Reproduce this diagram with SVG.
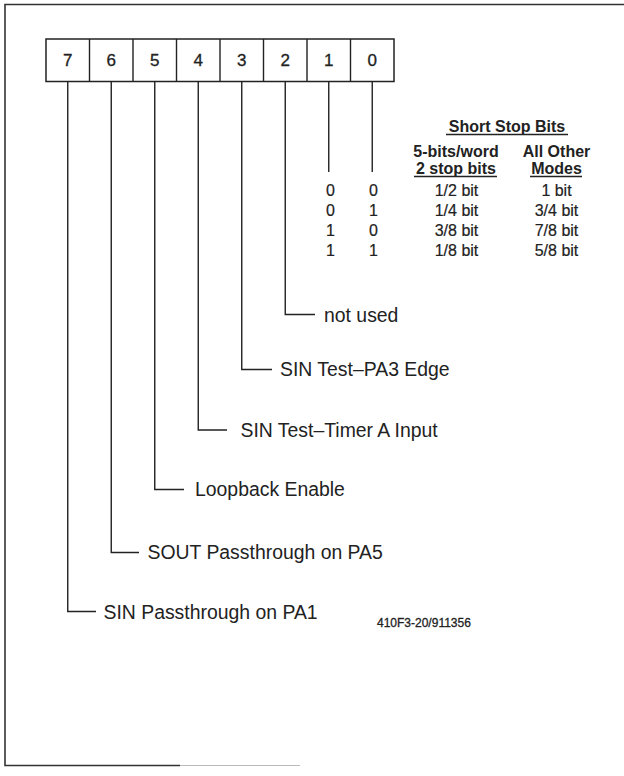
<svg xmlns="http://www.w3.org/2000/svg" width="624" height="776" viewBox="0 0 624 776">
<style>
.frame{fill:none;stroke:#333;stroke-width:1.6}
.cell{fill:#fff;stroke:#222;stroke-width:1.5}
.num{font-family:"Liberation Sans",Arial,sans-serif;font-size:17px;fill:#222;text-anchor:middle;stroke:#222;stroke-width:0.3}
.lbl{font-family:"Liberation Sans",Arial,sans-serif;font-size:19.4px;fill:#222}
.hdr{font-family:"Liberation Sans",Arial,sans-serif;font-size:16px;font-weight:bold;fill:#222;text-anchor:middle}
.val{font-family:"Liberation Sans",Arial,sans-serif;font-size:16px;fill:#222;text-anchor:middle;stroke:#222;stroke-width:0.2}
.foot{font-family:"Liberation Sans",Arial,sans-serif;font-size:12px;fill:#222;stroke:#222;stroke-width:0.3}
.ln{fill:none;stroke:#222;stroke-width:1.4}
.ul{stroke:#222;stroke-width:1.4}
</style>
<path class="frame" d="M624,4.5 H5 V765.5 H180"/>
<line x1="180" y1="765.5" x2="300" y2="765.5" stroke="#bbb" stroke-width="1.2"/>
<g id="register">
<rect class="cell" x="46" y="39" width="348" height="42.5"/>
<g class="ul">
<line x1="89.5" y1="39" x2="89.5" y2="81.5"/>
<line x1="133" y1="39" x2="133" y2="81.5"/>
<line x1="176.5" y1="39" x2="176.5" y2="81.5"/>
<line x1="220" y1="39" x2="220" y2="81.5"/>
<line x1="263.5" y1="39" x2="263.5" y2="81.5"/>
<line x1="307" y1="39" x2="307" y2="81.5"/>
<line x1="350.5" y1="39" x2="350.5" y2="81.5"/>
</g>
<text class="num" x="67.75" y="66">7</text>
<text class="num" x="111.25" y="66">6</text>
<text class="num" x="154.75" y="66">5</text>
<text class="num" x="198.25" y="66">4</text>
<text class="num" x="241.75" y="66">3</text>
<text class="num" x="285.25" y="66">2</text>
<text class="num" x="328.75" y="66">1</text>
<text class="num" x="372.25" y="66">0</text>
</g>
<g id="connectors">
<path class="ln" d="M372.25,81.5 V172"/>
<path class="ln" d="M328.75,81.5 V172"/>
<path class="ln" d="M285.25,81.5 V314.5 H315"/>
<path class="ln" d="M241.75,81.5 V369.5 H272"/>
<path class="ln" d="M198.25,81.5 V430 H227"/>
<path class="ln" d="M154.75,81.5 V489.5 H184"/>
<path class="ln" d="M111.25,81.5 V552.5 H139"/>
<path class="ln" d="M67.75,81.5 V611.5 H96"/>
</g>
<g id="label-bit2"><text class="lbl" x="324" y="321.5">not used</text></g>
<g id="label-bit3"><text class="lbl" x="280" y="376">SIN Test–PA3 Edge</text></g>
<g id="label-bit4"><text class="lbl" x="240.5" y="437">SIN Test–Timer A Input</text></g>
<g id="label-bit5"><text class="lbl" x="195" y="496">Loopback Enable</text></g>
<g id="label-bit6"><text class="lbl" x="147.5" y="559">SOUT Passthrough on PA5</text></g>
<g id="label-bit7"><text class="lbl" x="103.5" y="618.5">SIN Passthrough on PA1</text></g>
<g id="table">
<text class="hdr" x="507" y="131.5">Short Stop Bits</text>
<line class="ul" x1="446" y1="134.5" x2="568" y2="134.5"/>
<text class="hdr" x="456" y="157">5-bits/word</text>
<text class="hdr" x="456" y="174">2 stop bits</text>
<line class="ul" x1="414" y1="176.5" x2="497" y2="176.5"/>
<text class="hdr" x="556.5" y="157">All Other</text>
<text class="hdr" x="556.5" y="174">Modes</text>
<line class="ul" x1="530" y1="176.5" x2="582" y2="176.5"/>
<text class="val" x="330.5" y="196">0</text><text class="val" x="373.5" y="196">0</text>
<text class="val" x="330.5" y="216">0</text><text class="val" x="373.5" y="216">1</text>
<text class="val" x="330.5" y="236">1</text><text class="val" x="373.5" y="236">0</text>
<text class="val" x="330.5" y="256">1</text><text class="val" x="373.5" y="256">1</text>
<text class="val" x="456.5" y="196">1/2 bit</text><text class="val" x="556.5" y="196">1 bit</text>
<text class="val" x="456.5" y="216">1/4 bit</text><text class="val" x="556.5" y="216">3/4 bit</text>
<text class="val" x="456.5" y="236">3/8 bit</text><text class="val" x="556.5" y="236">7/8 bit</text>
<text class="val" x="456.5" y="256">1/8 bit</text><text class="val" x="556.5" y="256">5/8 bit</text>
</g>
<g id="footnote"><text class="foot" x="377" y="627">410F3-20/911356</text></g>
</svg>
